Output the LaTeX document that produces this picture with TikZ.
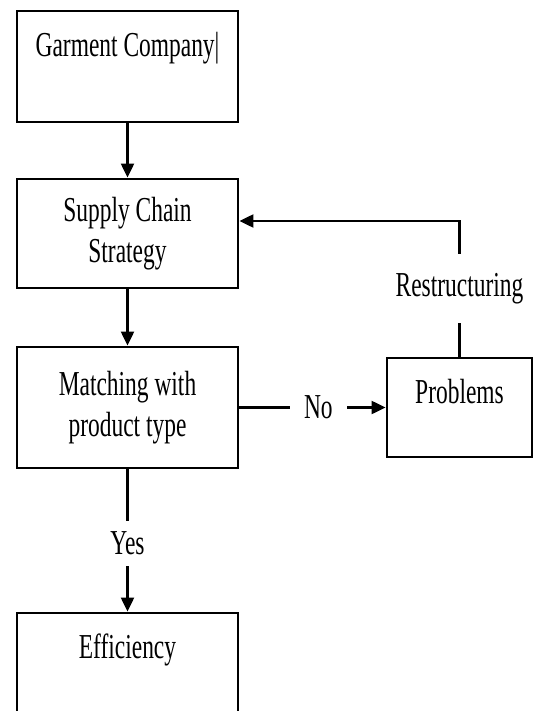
\documentclass[tikz,border=0pt]{standalone}
\usepackage{fontspec}
\setmainfont{Liberation Serif}[FakeStretch=0.67]
\usetikzlibrary{arrows.meta}
\tikzset{
  box/.style={draw, line width=2.8pt, minimum width=221pt, align=center, inner sep=0pt},
  arr/.style={line width=2.1pt, -{Triangle[length=14pt,width=13pt]}},
  gap/.style={fill=white, inner xsep=3pt},
}
\begin{document}
\begin{tikzpicture}[x=1pt, y=1pt, font=\fontsize{35}{41}\selectfont]
  \useasboundingbox (0,0) rectangle (533,-711);
  \clip (0,0) rectangle (533,-711);

  \node[box, minimum height=111pt, text height=24pt, text depth=43pt] (garment) at (127.5,-66.5) {Garment Company|};
  \node[box, minimum height=109pt] (sup) at (127.5,-233.5) {Supply Chain\\Strategy};
  \node[box, minimum height=121pt] (match) at (127.5,-407.5) {Matching with\\product type};
  \node[box, minimum width=145pt, minimum height=99pt, text height=24pt, text depth=33pt] (probs) at (459.5,-407.5) {Problems};
  \node[box, minimum height=111pt, text height=24pt, text depth=45pt] (eff) at (127.5,-668.5) {Efficiency};

  \coordinate (fb) at (459.5,-221);

  \draw[arr] (garment) -- (sup);
  \draw[arr] (sup) -- (match);
  \draw[arr] (match) -- node[gap, pos=0.54, inner xsep=14.5pt] {No} (probs);
  \draw[arr] (match) -- node[gap, inner ysep=11pt, yshift=-3pt] {Yes} (eff);
  \draw[arr] (probs) -- node[gap, inner ysep=19pt] {Restructuring} (fb) -- (fb -| sup.east);
\end{tikzpicture}
\end{document}
